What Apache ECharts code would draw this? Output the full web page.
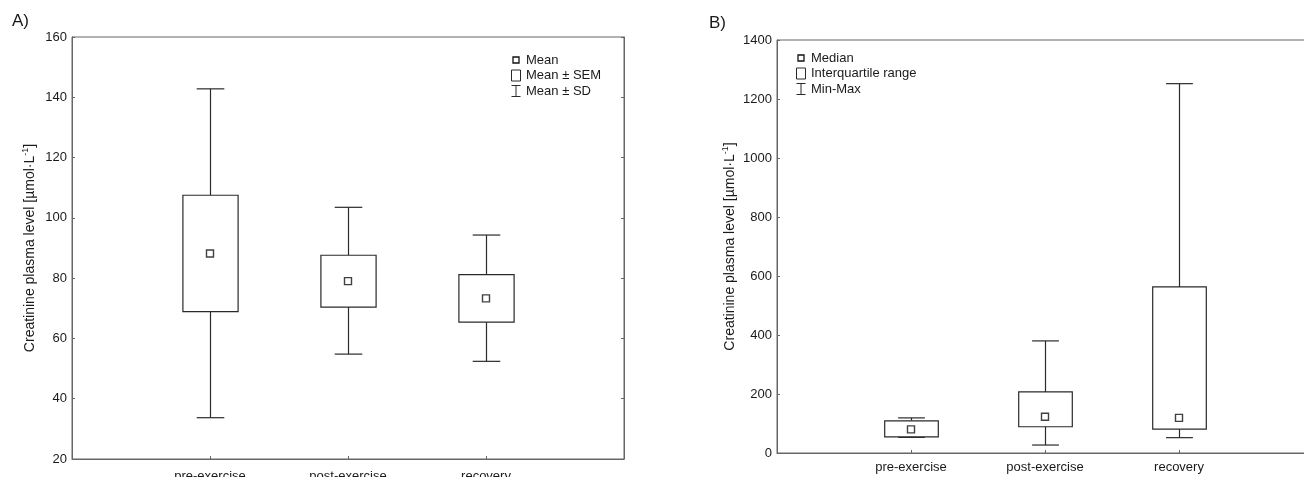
<!DOCTYPE html>
<html>
<head>
<meta charset="utf-8">
<script src="https://cdn.jsdelivr.net/npm/echarts@6/dist/echarts.min.js"></script>
<style>
  html, body { margin: 0; padding: 0; background: #fff; }
  #chart { width: 1304px; height: 477px; }
</style>
</head>
<body>
<div id="chart"></div>
<script>
// ---- data ----
const categories = ['pre-exercise', 'post-exercise', 'recovery'];
// Panel A: mean, SEM and SD
const meanA    = [88.2, 79.0, 73.3];
const semLowA  = [68.9, 70.4, 65.4];
const semHighA = [107.5, 87.6, 81.2];
const sdLowA   = [33.7, 54.8, 52.4];
const sdHighA  = [142.8, 103.5, 94.3];
// Panel B: median, interquartile range, min-max
const medianB = [80, 123, 119];
const q1B     = [55, 89, 81];
const q3B     = [109, 207, 563];
const minB    = [53, 27, 52];
const maxB    = [119, 380, 1252];
// axis ticks
const yTicksA = { min: 20, max: 160, interval: 20 };
const yTicksB = { min: 0, max: 1400, interval: 200 };

const FONT = '"Liberation Sans", Arial, Helvetica, sans-serif';
const TXT = '#1a1a1a';
const AXIS = '#666';
const INK = '#2a2a2a';

const xCats = [''].concat(categories, ['']);

function boxData(lo, b1, b2, hi) {
  return categories.map((c, i) => [i + 1, lo[i], b1[i], b2[i], hi[i]]);
}
function centerData(v) {
  return categories.map((c, i) => [i + 1, v[i]]);
}

function renderBox(params, api) {
  const x = api.value(0);
  const lo = api.value(1), b1 = api.value(2), b2 = api.value(3), hi = api.value(4);
  const slot = api.size([1, 0])[0];
  const bw = slot * 0.4, cw = slot * 0.2;
  const pHi = api.coord([x, hi]);
  const pB2 = api.coord([x, b2]);
  const pB1 = api.coord([x, b1]);
  const pLo = api.coord([x, lo]);
  const cx = Math.round(pHi[0]) + 0.5;
  const st = { stroke: INK, lineWidth: 1.2, fill: null };
  return {
    type: 'group',
    children: [
      { type: 'line', shape: { x1: cx, y1: pHi[1], x2: cx, y2: pB2[1] }, style: st },
      { type: 'line', shape: { x1: cx, y1: pB1[1], x2: cx, y2: pLo[1] }, style: st },
      { type: 'line', shape: { x1: cx - cw / 2, y1: pHi[1], x2: cx + cw / 2, y2: pHi[1] }, style: st },
      { type: 'line', shape: { x1: cx - cw / 2, y1: pLo[1], x2: cx + cw / 2, y2: pLo[1] }, style: st },
      { type: 'rect', shape: { x: cx - bw / 2, y: pB2[1], width: bw, height: pB1[1] - pB2[1] },
        style: { stroke: INK, lineWidth: 1.2, fill: '#fff' } }
    ]
  };
}

function yName() {
  return '{t|Creatinine plasma level [µmol·L}{s|-1}{t|]}';
}
const nameRich = {
  t: { fontSize: 14, fontFamily: FONT, color: TXT, lineHeight: 18 },
  s: { fontSize: 9, fontFamily: FONT, color: TXT, padding: [0, 0, 9, 0] }
};

function xAxisCfg(grid, margin) {
  return {
    type: 'category', gridIndex: grid, data: xCats, boundaryGap: false,
    axisLine: { lineStyle: { color: AXIS, width: 1 } },
    axisTick: { inside: true, length: 3, lineStyle: { color: AXIS },
      interval: (i, v) => v !== '' },
    axisLabel: { color: TXT, fontSize: 13, fontFamily: FONT, margin: margin,
      interval: 0 },
    splitLine: { show: false }
  };
}

function yLabel() {
  return { color: TXT, fontSize: 13, fontFamily: FONT, margin: 5,
    formatter: (v) => String(v) };
}

function legendGroup(x, y, labels) {
  // decorative legend keys drawn with graphics
  const g = [];
  const lh = 15.5;
  g.push({ type: 'rect', shape: { x: x + 1, y: y - 3, width: 6, height: 6 },
    style: { stroke: '#111', lineWidth: 1.3, fill: '#fff' } });
  g.push({ type: 'rect', shape: { x: x - 0.5, y: y + lh - 5.5, width: 9, height: 11 },
    style: { stroke: INK, lineWidth: 1, fill: '#fff' } });
  const wy = y + 2 * lh;
  g.push({ type: 'line', shape: { x1: x + 4, y1: wy - 5.5, x2: x + 4, y2: wy + 5.5 }, style: { stroke: INK, lineWidth: 1 } });
  g.push({ type: 'line', shape: { x1: x - 0.5, y1: wy - 5.5, x2: x + 8.5, y2: wy - 5.5 }, style: { stroke: INK, lineWidth: 1 } });
  g.push({ type: 'line', shape: { x1: x - 0.5, y1: wy + 5.5, x2: x + 8.5, y2: wy + 5.5 }, style: { stroke: INK, lineWidth: 1 } });
  labels.forEach((t, i) => {
    g.push({ type: 'text', x: x + 14, y: y + i * lh,
      style: { text: t, fill: TXT, font: '13px ' + FONT, verticalAlign: 'middle', textAlign: 'left' } });
  });
  return g;
}

const chart = echarts.init(document.getElementById('chart'), null, { renderer: 'canvas' });
chart.setOption({
  animation: false,
  backgroundColor: '#fff',
  grid: [
    { left: 72, top: 37, width: 552, height: 422, show: true, borderColor: AXIS, borderWidth: 1,
      backgroundColor: 'transparent', containLabel: false, outerBoundsMode: 'none' },
    { left: 777, top: 40, width: 536, height: 413, show: true, borderColor: AXIS, borderWidth: 1,
      backgroundColor: 'transparent', containLabel: false, outerBoundsMode: 'none' }
  ],
  xAxis: [xAxisCfg(0, 11), xAxisCfg(1, 8)],
  yAxis: [
    { type: 'value', gridIndex: 0, min: yTicksA.min, max: yTicksA.max, interval: yTicksA.interval,
      name: yName(), nameLocation: 'middle', nameRotate: 90, nameGap: 33,
      nameTextStyle: { rich: nameRich },
      axisLine: { show: true, lineStyle: { color: AXIS } },
      axisTick: { show: true, inside: true, length: 3, lineStyle: { color: AXIS } },
      axisLabel: yLabel(),
      splitLine: { show: false } },
    { type: 'value', gridIndex: 0, position: 'right', min: yTicksA.min, max: yTicksA.max, interval: yTicksA.interval,
      axisLine: { show: true, lineStyle: { color: AXIS } },
      axisTick: { show: true, inside: true, length: 3, lineStyle: { color: AXIS } },
      axisLabel: { show: false }, splitLine: { show: false } },
    { type: 'value', gridIndex: 1, min: yTicksB.min, max: yTicksB.max, interval: yTicksB.interval,
      name: yName(), nameLocation: 'middle', nameRotate: 90, nameGap: 38,
      nameTextStyle: { rich: nameRich },
      axisLine: { show: true, lineStyle: { color: AXIS } },
      axisTick: { show: true, inside: true, length: 3, lineStyle: { color: AXIS } },
      axisLabel: yLabel(),
      splitLine: { show: false } }
  ],
  series: [
    { type: 'custom', xAxisIndex: 0, yAxisIndex: 0, renderItem: renderBox,
      data: boxData(sdLowA, semLowA, semHighA, sdHighA), z: 2 },
    { type: 'scatter', xAxisIndex: 0, yAxisIndex: 0, data: centerData(meanA),
      symbol: 'rect', symbolSize: 7,
      itemStyle: { color: '#fff', borderColor: '#111', borderWidth: 1.4 }, z: 3 },
    { type: 'custom', xAxisIndex: 1, yAxisIndex: 2, renderItem: renderBox,
      data: boxData(minB, q1B, q3B, maxB), z: 2 },
    { type: 'scatter', xAxisIndex: 1, yAxisIndex: 2, data: centerData(medianB),
      symbol: 'rect', symbolSize: 7,
      itemStyle: { color: '#fff', borderColor: '#111', borderWidth: 1.4 }, z: 3 }
  ],
  graphic: [
    { type: 'text', left: 12, top: 13, style: { text: 'A)', fill: TXT, font: '17px ' + FONT } },
    { type: 'text', left: 709, top: 15, style: { text: 'B)', fill: TXT, font: '17px ' + FONT } },
    { type: 'group', children: legendGroup(512, 60, ['Mean', 'Mean ± SEM', 'Mean ± SD']) },
    { type: 'group', children: legendGroup(797, 58, ['Median', 'Interquartile range', 'Min-Max']) }
  ]
});
</script>
</body>
</html>
